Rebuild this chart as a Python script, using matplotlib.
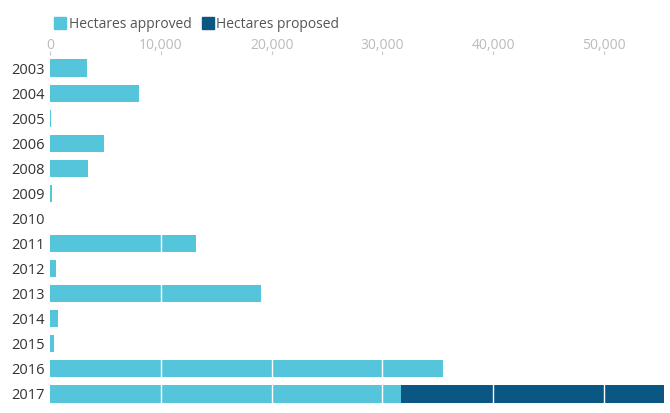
import numpy as np
import matplotlib.pyplot as plt
from matplotlib.lines import Line2D

# Data
years = ["2003", "2004", "2005", "2006", "2008", "2009", "2010",
         "2011", "2012", "2013", "2014", "2015", "2016", "2017"]
approved = [3300, 8000, 100, 4850, 3400, 150, 0,
            13200, 550, 19050, 750, 350, 35450, 31700]
proposed = [0, 0, 0, 0, 0, 0, 0, 0, 0, 0, 0, 0, 0, 23700]
ticks = [0, 10000, 20000, 30000, 40000, 50000]

c_appr = "#55c5dc"
c_prop = "#0b5784"
plt.rcParams['font.family'] = ['Open Sans', 'DejaVu Sans']

fig = plt.figure(figsize=(6.7, 4.13), dpi=100)
ax = fig.add_axes([0.0746, 0.0157, 0.918, 0.85])

y = np.arange(len(years))
ax.barh(y, approved, height=0.68, color=c_appr, zorder=1)
ax.barh(y, proposed, left=approved, height=0.68, color=c_prop, zorder=1)

# white gridlines over the bars
for t in ticks[1:]:
    ax.axvline(t, color="white", lw=1, zorder=2)

ax.set_ylim(len(years) - 0.5, -0.5)
ax.set_xlim(0, 55500)
ax.set_yticks(y)
ax.set_yticklabels(years, fontsize=10.5, color="#333333")
ax.tick_params(axis="y", length=0, pad=4)
ax.xaxis.tick_top()
ax.set_xticks(ticks)
ax.set_xticklabels([f"{t:,}" for t in ticks], fontsize=10, color="#bbbbbb")
ax.tick_params(axis="x", length=3, color="#c8c8c8", pad=-1.5)
for s in ax.spines.values():
    s.set_visible(False)

# legend
handles = [Line2D([], [], marker="s", ls="", color=c_appr, markersize=8),
           Line2D([], [], marker="s", ls="", color=c_prop, markersize=8)]
fig.legend(handles, ["Hectares approved", "Hectares proposed"], loc="upper left",
           bbox_to_anchor=(0.065, 0.99), ncol=2, frameon=False, fontsize=10,
           handlelength=0.6, handletextpad=0.3, columnspacing=0.9,
           labelcolor="#555555")

fig.savefig("out.png", dpi=100)
